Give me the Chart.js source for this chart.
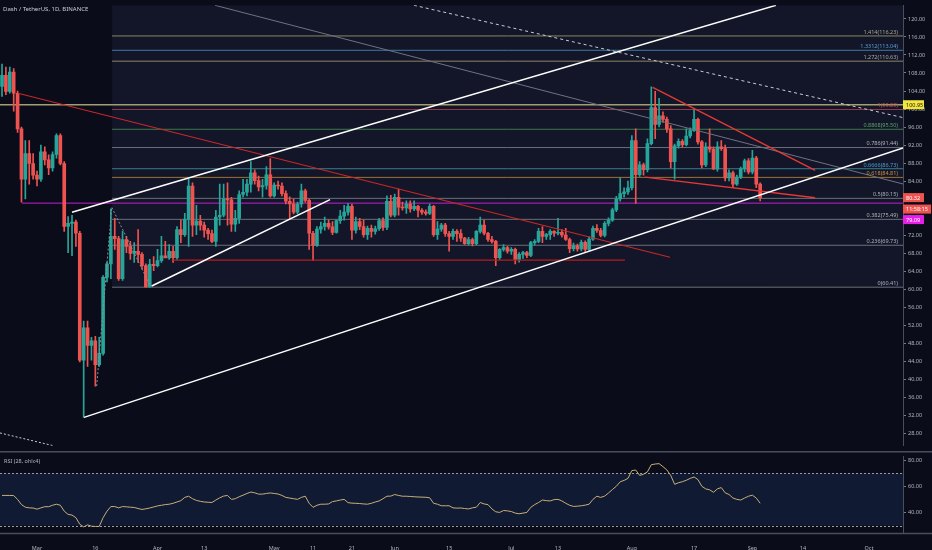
<!DOCTYPE html>
<html>
<head>
<meta charset="utf-8">
<title>Dash / TetherUS</title>
<script src="https://cdn.jsdelivr.net/npm/chart.js@4.4.0/dist/chart.umd.min.js"></script>
<style>
html, body { margin: 0; padding: 0; background: #0b0c1a; }
#wrap { position: relative; width: 932px; height: 550px; overflow: hidden; }
#priceChart { position: absolute; left: 0; top: 0; }
#rsiChart { position: absolute; left: 0; top: 451px; }
.label { position: absolute; font-family: "Noto Sans", sans-serif; color: #c9ccd4; white-space: nowrap; }
#title { left: 3px; top: 5px; font-size: 6px; }
#rsiTitle { left: 4px; top: 457px; font-size: 5.5px; color: #b2b5be; }
</style>
</head>
<body>
<div id="wrap">
  <canvas id="priceChart" width="932" height="451"></canvas>
  <canvas id="rsiChart" width="932" height="99"></canvas>
  <div id="title" class="label">Dash / TetherUS, 1D, BINANCE</div>
  <div id="rsiTitle" class="label">RSI (28, ohlc4)</div>
</div>
<script>
// daily candles, day numbers counted from 1 March 2020 (first candle = 21 Feb)
const firstDay = -9;

const opens = [
  105.0, 107.5, 103.9, 108.2, 103.5, 95.6, 84.4, 90.1, 87.9, 85.3,
  84.4, 90.5, 88.7, 86.9, 89.9, 94.1, 87.9, 73.9, 74.6, 74.9,
  72.4, 44.2, 51.4, 47.5, 48.5, 43.2, 45.7, 62.6, 65.6, 71.7,
  71.2, 62.3, 71.0, 69.5, 67.9, 68.4, 67.7, 65.2, 60.5, 65.5,
  65.2, 66.3, 67.4, 66.9, 68.4, 67.0, 73.2, 72.1, 75.5, 82.9,
  74.2, 75.1, 74.2, 73.1, 72.3, 70.6, 76.0, 76.4, 80.0, 79.8,
  74.4, 75.7, 81.0, 81.5, 83.3, 85.8, 84.1, 82.7, 83.0, 85.4,
  80.7, 83.1, 82.9, 81.2, 79.5, 78.9, 77.1, 78.9, 81.8, 79.7,
  72.4, 69.7, 73.3, 73.9, 74.6, 73.8, 72.6, 75.2, 76.2, 77.1,
  78.4, 73.1, 75.0, 73.9, 72.1, 73.5, 72.8, 73.4, 75.2, 73.7,
  79.5, 76.4, 80.4, 78.2, 78.0, 78.9, 77.8, 78.4, 77.5, 77.1,
  76.8, 78.4, 72.1, 73.3, 74.2, 72.3, 71.7, 72.8, 72.3, 71.3,
  70.1, 71.0, 70.1, 72.8, 74.2, 72.4, 71.0, 70.6, 67.0, 68.8,
  69.2, 68.4, 68.8, 66.6, 67.7, 68.1, 67.5, 70.3, 70.6, 72.8,
  71.7, 72.1, 72.8, 72.4, 72.6, 72.0, 71.0, 69.0, 69.6, 68.9,
  70.4, 68.8, 71.1, 73.5, 73.0, 71.9, 74.6, 75.3, 77.6, 80.0,
  81.2, 81.6, 82.5, 93.0, 85.4, 87.6, 86.5, 92.3, 100.3, 96.6,
  98.5, 97.7, 95.6, 88.3, 91.8, 92.8, 92.1, 94.0, 95.2, 97.7,
  92.7, 87.6, 91.6, 91.1, 86.7, 91.6, 91.2, 84.7, 85.8, 83.3,
  84.9, 86.7, 88.5, 86.0, 89.1, 83.3
];
const highs = [
  110.0, 109.3, 109.3, 109.0, 104.0, 96.0, 93.0, 93.0, 90.1, 86.2,
  92.0, 91.6, 89.8, 90.5, 94.5, 94.5, 88.3, 76.1, 76.4, 75.3,
  72.8, 52.9, 52.9, 49.3, 49.5, 49.3, 63.0, 66.0, 77.8, 75.7,
  71.7, 72.8, 71.7, 70.6, 70.3, 73.2, 68.1, 65.6, 66.6, 67.2,
  68.8, 71.7, 70.6, 69.9, 69.5, 73.9, 75.3, 76.8, 84.4, 83.6,
  78.6, 76.4, 74.9, 73.5, 73.1, 77.5, 83.3, 83.3, 83.6, 80.4,
  77.5, 81.8, 84.4, 84.4, 88.3, 86.5, 85.1, 84.4, 87.2, 89.0,
  83.6, 84.0, 83.6, 81.8, 80.5, 80.0, 79.3, 83.3, 82.2, 80.0,
  72.8, 73.9, 74.9, 76.0, 75.3, 75.0, 75.3, 77.5, 78.6, 79.0,
  78.9, 76.0, 75.7, 75.3, 74.0, 74.2, 74.0, 75.7, 75.8, 80.7,
  80.8, 81.1, 82.2, 79.3, 79.6, 79.6, 79.6, 78.6, 77.9, 77.6,
  78.9, 78.6, 75.0, 74.6, 74.6, 72.8, 73.3, 73.2, 73.2, 71.5,
  71.5, 71.3, 73.0, 76.0, 75.3, 72.6, 71.7, 70.8, 69.0, 69.9,
  69.5, 69.2, 69.1, 68.1, 68.4, 68.4, 70.6, 71.0, 73.5, 73.9,
  72.4, 73.2, 73.0, 75.7, 73.2, 73.5, 71.3, 70.2, 70.0, 70.9,
  70.7, 71.6, 74.0, 74.3, 73.5, 75.0, 75.8, 78.0, 80.6, 84.7,
  82.5, 84.0, 94.1, 95.6, 88.3, 88.0, 93.4, 104.9, 103.9, 102.4,
  99.4, 98.2, 96.3, 92.2, 93.4, 93.2, 95.6, 95.8, 99.9, 98.0,
  93.0, 92.5, 95.6, 91.6, 92.7, 93.0, 92.0, 86.5, 86.2, 85.3,
  87.1, 88.9, 89.0, 90.8, 89.5, 83.6
];
const lows = [
  102.8, 103.2, 103.5, 99.5, 94.8, 79.3, 80.0, 83.3, 84.4, 82.9,
  83.9, 87.6, 85.4, 86.2, 89.1, 87.6, 72.8, 68.1, 67.4, 69.5,
  43.8, 31.5, 42.8, 44.2, 38.4, 42.8, 45.3, 61.6, 62.3, 68.8,
  61.9, 61.9, 68.1, 66.6, 65.9, 65.9, 64.5, 60.4, 60.4, 64.1,
  64.9, 65.9, 67.0, 66.6, 65.9, 66.6, 70.3, 71.7, 69.5, 71.7,
  72.1, 73.1, 71.5, 71.0, 70.3, 69.5, 74.2, 76.0, 74.2, 72.8,
  72.8, 74.6, 80.4, 80.7, 81.5, 83.3, 81.8, 80.4, 82.2, 80.4,
  80.4, 82.2, 80.7, 78.9, 75.7, 76.7, 76.7, 78.2, 79.3, 68.8,
  66.3, 69.5, 72.4, 73.1, 73.3, 72.1, 72.4, 74.6, 75.3, 76.4,
  71.0, 72.4, 73.2, 71.5, 71.0, 71.5, 72.2, 73.0, 73.0, 73.2,
  76.0, 76.0, 76.4, 77.5, 76.8, 77.1, 77.4, 76.0, 76.6, 76.4,
  76.5, 71.7, 71.0, 72.8, 71.7, 68.4, 71.0, 70.6, 70.6, 69.9,
  69.8, 69.6, 69.8, 72.4, 72.0, 70.6, 70.2, 65.2, 66.6, 68.4,
  68.0, 67.7, 65.6, 66.0, 66.8, 67.0, 67.2, 69.8, 70.3, 70.3,
  71.0, 71.0, 71.7, 72.0, 71.5, 70.8, 68.1, 68.5, 68.4, 68.5,
  68.3, 68.5, 70.8, 72.6, 71.6, 71.6, 74.0, 75.0, 77.2, 79.5,
  80.4, 81.0, 82.0, 79.0, 85.0, 85.3, 86.0, 92.0, 93.4, 96.0,
  97.0, 94.8, 86.9, 84.4, 91.3, 91.5, 91.8, 93.6, 95.0, 92.2,
  86.9, 87.2, 90.4, 86.5, 86.2, 90.8, 84.0, 84.0, 82.5, 83.0,
  84.5, 86.0, 85.6, 85.6, 82.5, 79.6
];
const closes = [
  107.5, 103.9, 108.2, 103.5, 95.6, 84.4, 90.1, 87.9, 85.3, 84.4,
  90.5, 88.7, 86.9, 89.9, 94.1, 87.9, 73.9, 74.6, 74.9, 72.4,
  44.2, 51.4, 47.5, 48.5, 43.2, 45.7, 62.6, 65.6, 71.7, 71.2,
  62.3, 71.0, 69.5, 67.9, 68.4, 67.7, 65.2, 60.5, 65.5, 65.2,
  66.3, 67.4, 66.9, 68.4, 67.0, 73.2, 72.1, 75.5, 82.9, 74.2,
  75.1, 74.2, 73.1, 72.3, 70.6, 76.0, 76.4, 80.0, 79.8, 74.4,
  75.7, 81.0, 81.5, 83.3, 85.8, 84.1, 82.7, 83.0, 85.4, 80.7,
  83.1, 82.9, 81.2, 79.5, 78.9, 77.1, 78.9, 81.8, 79.7, 72.4,
  69.7, 73.3, 73.9, 74.6, 73.8, 72.6, 75.2, 76.2, 77.1, 78.4,
  73.1, 75.0, 73.9, 72.1, 73.5, 72.8, 73.4, 75.2, 73.7, 79.5,
  76.4, 80.4, 78.2, 78.0, 78.9, 77.8, 78.4, 77.5, 77.1, 76.8,
  78.4, 72.1, 73.3, 74.2, 72.3, 71.7, 72.8, 72.3, 71.3, 70.1,
  71.0, 70.1, 72.8, 74.2, 72.4, 71.0, 70.6, 67.0, 68.8, 69.2,
  68.4, 68.8, 66.6, 67.7, 68.1, 67.5, 70.3, 70.6, 72.8, 71.7,
  72.1, 72.8, 72.4, 72.6, 72.0, 71.0, 69.0, 69.6, 68.9, 70.4,
  68.8, 71.1, 73.5, 73.0, 71.9, 74.6, 75.3, 77.6, 80.0, 81.2,
  81.6, 82.5, 93.0, 85.4, 87.6, 86.5, 92.3, 100.3, 96.6, 98.5,
  97.7, 95.6, 88.3, 91.8, 92.8, 92.1, 94.0, 95.2, 97.7, 92.7,
  87.6, 91.6, 91.1, 86.7, 91.6, 91.2, 84.7, 85.8, 83.3, 84.9,
  86.7, 88.5, 86.0, 89.1, 83.3, 80.32
];
const rsi = [
  53, 53, 53, 52.9, 50, 46, 44, 43.5, 43.4, 42.5,
  43.5, 44.4, 44.4, 45.5, 46.3, 45.5, 41, 38.5, 38, 36,
  31, 29, 30.5, 29.5, 29.3, 29.3, 36, 41, 44.5, 44.5,
  43.5, 44.5, 44.3, 44, 43.8, 43, 42.3, 42.8, 43.4, 44.2,
  45, 45.5, 46, 46.3, 47, 48, 49, 51.5, 52.4, 50.5,
  49.2, 48.5, 48, 47.8, 47.6, 49.5, 51.2, 52.5, 53, 50,
  50.5, 52, 53.2, 54.5, 55.6, 55, 54, 54, 54.5, 54.9,
  54.5, 54.1, 53, 51.5, 51, 50.5, 50, 51.5, 52.4, 47,
  43.9, 45.5, 46.3, 46.3, 46.5, 48.3, 48.8, 49.5, 50, 47.5,
  47.1, 47, 46.8, 46.5, 46.3, 47, 48, 48.8, 50.5, 52.4,
  52.5, 53.7, 53, 52.4, 52.4, 52.2, 52, 51.8, 51.7, 51.6,
  51.2, 47, 46.3, 45.1, 45.1, 45.1, 43.5, 43.3, 43.4, 43,
  42.7, 43.5, 44, 47.6, 46.5, 46, 42.7, 40.5, 40, 41.5,
  41.2, 40.7, 39.5, 39, 39.5, 40, 43.9, 46, 47.6, 49.5,
  49, 48.8, 49.8, 50, 48.8, 47, 45.5, 44.6, 44.8, 45.1,
  45.6, 46.3, 50, 52.4, 51.5, 52.5, 54.9, 57.5, 60, 63.4,
  64.5, 66, 72, 72.4, 68.3, 69.2, 71, 76.5, 77, 77.3,
  75, 72.5, 68.3, 61.5, 62.7, 63.5, 64.6, 66, 67.1, 65.1,
  60, 58, 57.3, 55.4, 58, 59, 55, 53.7, 51, 50,
  49.5, 51, 52.4, 53.2, 51, 47
];

const priceTicks = [28, 32, 36, 40, 44, 48, 52, 56, 60, 64, 68, 72, 76, 80, 84, 88, 92, 96, 100, 104, 108, 112, 116, 120];
const rsiTicks = [40, 60, 80];
const timeTicks = [0, 15, 31, 43, 61, 71, 81, 92, 106, 122, 134, 153, 169, 184, 197, 214];
const timeLabels = ['Mar', '16', 'Apr', '13', 'May', '11', '21', 'Jun', '15', 'Jul', '13', 'Aug', '17', 'Sep', '14', 'Oct'];

// fib retracement
const fibStart = 19.3;
const fibLevels = [1.414, 1.3312, 1.272, 1, 0.8868, 0.786, 0.6666, 0.618, 0.5, 0.382, 0.236, 0];
const fibPrices = [116.23, 113.04, 110.63, 99.89, 95.50, 91.44, 86.73, 84.81, 80.15, 75.49, 69.73, 60.41];

// drawn lines, [day, price]
const channelLow = [[12.09, 31.5], [222.74, 91.37]];
const channelHigh = [[9.0, 77.05], [190.07, 123.04]];
const smallChannel = [[29.5, 60.69], [75.36, 79.87]];
const redTrend = [[-4.89, 103.51], [162.81, 67.07]];
const redSupport = [[34.98, 66.42], [151.23, 66.42]];
const wedgeTop = [[158.36, 104.82], [200.15, 86.38]];
const wedgeBottom = [[156.38, 84.86], [200.15, 80.30]];
const greyTrend = [[45.78, 123.04], [222.74, 83.34]];
const dottedTrend = [[96.96, 123.04], [222.74, 98.09]];
const dottedLeft = [[-9.52, 28.03], [4.2, 25.2]];
const fibAnchor = [[15.35, 38.44], [19.21, 78.2], [29.06, 60.85]];
const yellowLevel = 100.95;
const magentaLevel = 79.09;
const magentaStart = -3.86;
const lastPrice = 80.32;
const countdown = '11:58:15';

const xMin = -9.52, xMax = 222.74;
const UP = '#26a69a', DOWN = '#ef5350';
const font = { family: 'Noto Sans', size: 5.5 };
const textColor = '#b2b5be';

const fibLineColors = ['#8a8860', '#3c7c9c', '#8a8860', '#8e3a46', '#3c7a4e', '#6c6f79', '#3a7d8d', '#9a7234', '#6c6f79', '#6c6f79', '#6c6f79', '#6c6f79'];
const fibTextColors = ['#a8a790', '#5aa0d0', '#a8a8a8', '#c0504d', '#5aa66a', '#b0b2b8', '#4a9fd0', '#d09040', '#b0b2b8', '#b0b2b8', '#b0b2b8', '#b0b2b8'];

const candleColors = closes.map((c, i) => c >= opens[i] ? UP : DOWN);
const bodies = closes.map((c, i) => ({ x: firstDay + i, y: [opens[i], c] }));
const wicks = closes.map((c, i) => ({ x: firstDay + i, y: [lows[i], highs[i]] }));

function pts(line) {
  return line.map(p => ({ x: p[0], y: p[1] }));
}
function lineSet(line, color, width, dash, order) {
  return {
    type: 'line', data: pts(line), borderColor: color, borderWidth: width,
    borderDash: dash || [], pointRadius: 0, fill: false, tension: 0, order: order
  };
}

const bgPlugin = {
  id: 'bg',
  beforeDraw(chart) {
    const ctx = chart.ctx;
    ctx.save();
    ctx.fillStyle = '#0b0c1a';
    ctx.fillRect(0, 0, chart.width, chart.height);
    ctx.restore();
  }
};

const fibPlugin = {
  id: 'fib',
  beforeDatasetsDraw(chart) {
    const { ctx, chartArea, scales } = chart;
    const x0 = scales.x.getPixelForValue(fibStart);
    const yb = scales.y.getPixelForValue(fibPrices[fibPrices.length - 1]);
    ctx.save();
    ctx.fillStyle = '#121628';
    ctx.fillRect(x0, chartArea.top, chartArea.right - x0, yb - chartArea.top);
    ctx.restore();
  },
  afterDatasetsDraw(chart) {
    const { ctx, chartArea, scales } = chart;
    ctx.save();
    ctx.font = '5.5px "Noto Sans"';
    ctx.textAlign = 'right';
    ctx.textBaseline = 'bottom';
    fibPrices.forEach((p, i) => {
      ctx.fillStyle = fibTextColors[i];
      ctx.fillText(fibLevels[i] + '(' + p.toFixed(2) + ')', chartArea.right - 5, scales.y.getPixelForValue(p) - 1);
    });
    ctx.restore();
  }
};

const tagPlugin = {
  id: 'tags',
  afterDraw(chart) {
    const { ctx, chartArea, scales } = chart;
    const left = chartArea.right;
    ctx.save();
    ctx.font = '5.5px "Noto Sans"';
    ctx.textAlign = 'left';
    ctx.textBaseline = 'middle';
    function tag(cy, text, bg, fg, w) {
      ctx.fillStyle = bg;
      ctx.fillRect(left, cy - 4.5, w, 9);
      ctx.fillStyle = fg;
      ctx.fillText(text, left + 3, cy + 0.5);
    }
    tag(scales.y.getPixelForValue(yellowLevel), yellowLevel.toFixed(2), '#f3e53c', '#131722', 21);
    const cy = scales.y.getPixelForValue(lastPrice);
    tag(cy, lastPrice.toFixed(2), DOWN, '#ffffff', 21);
    tag(cy + 11.5, countdown, DOWN, '#ffffff', 28);
    tag(cy + 22, magentaLevel.toFixed(2), '#e91ee6', '#ffffff', 21);
    ctx.restore();
  }
};

const fibSets = fibPrices.map((p, i) => lineSet([[fibStart, p], [xMax, p]], fibLineColors[i], 1, null, 5));

new Chart(document.getElementById('priceChart'), {
  type: 'bar',
  data: {
    datasets: [
      ...fibSets,
      lineSet([[xMin, yellowLevel], [xMax, yellowLevel]], '#a19e70', 1.5, null, 4),
      lineSet([[magentaStart, magentaLevel], [xMax, magentaLevel]], '#c21fd0', 1, null, 4),
      { data: wicks, backgroundColor: candleColors, barThickness: 1, grouped: false, order: 3 },
      { data: bodies, backgroundColor: candleColors, barThickness: 3, minBarLength: 1, grouped: false, order: 2 },
      lineSet(redTrend, '#c62828', 1.2, null, 1),
      lineSet(redSupport, '#b71c1c', 1.2, null, 1),
      lineSet(wedgeTop, '#e53935', 1.4, null, 1),
      lineSet(wedgeBottom, '#e53935', 1.4, null, 1),
      lineSet(greyTrend, '#6f7280', 1, null, 1),
      lineSet(dottedTrend, '#c9ccd6', 1, [3, 3], 1),
      lineSet(dottedLeft, '#c9ccd6', 1, [2, 2], 1),
      lineSet(fibAnchor, '#8b8e98', 1, [2, 2], 1),
      lineSet(channelLow, '#ffffff', 1.5, null, 0),
      lineSet(channelHigh, '#ffffff', 1.5, null, 0),
      lineSet(smallChannel, '#ffffff', 1.5, null, 0)
    ]
  },
  options: {
    responsive: false,
    animation: false,
    events: [],
    layout: { padding: 0, autoPadding: false },
    plugins: { legend: { display: false }, tooltip: { enabled: false } },
    scales: {
      x: { type: 'linear', min: xMin, max: xMax, offset: false, display: false },
      y: {
        type: 'linear', position: 'right', min: 25.2, max: 123.04, beginAtZero: false,
        afterFit: s => { s.width = 29; },
        afterBuildTicks: s => { s.ticks = priceTicks.map(v => ({ value: v })); },
        ticks: { color: textColor, font: font, padding: 2, callback: v => v.toFixed(2) },
        grid: { drawOnChartArea: false, drawTicks: true, tickLength: 3, color: '#787b86' },
        border: { display: true, color: '#4a4e5c' }
      }
    }
  },
  plugins: [bgPlugin, fibPlugin, tagPlugin]
});

const rsiPlugin = {
  id: 'rsiBand',
  beforeDatasetsDraw(chart) {
    const { ctx, chartArea, scales } = chart;
    const y70 = scales.y.getPixelForValue(70);
    const y30 = scales.y.getPixelForValue(30);
    ctx.save();
    ctx.fillStyle = '#111a33';
    ctx.fillRect(chartArea.left, y70, chartArea.right - chartArea.left, y30 - y70);
    ctx.strokeStyle = '#9a9da8';
    ctx.lineWidth = 1;
    ctx.setLineDash([2, 2]);
    [y70, y30].forEach(y => {
      ctx.beginPath();
      ctx.moveTo(chartArea.left, Math.round(y) + 0.5);
      ctx.lineTo(chartArea.right, Math.round(y) + 0.5);
      ctx.stroke();
    });
    ctx.restore();
  },
  afterDraw(chart) {
    const { ctx, chartArea } = chart;
    ctx.save();
    ctx.strokeStyle = '#4a4e5c';
    ctx.lineWidth = 1.5;
    ctx.beginPath();
    ctx.moveTo(0, 0.75);
    ctx.lineTo(chart.width, 0.75);
    ctx.moveTo(0, chartArea.bottom + 0.5);
    ctx.lineTo(chart.width, chartArea.bottom + 0.5);
    ctx.stroke();
    ctx.restore();
  }
};

new Chart(document.getElementById('rsiChart'), {
  type: 'line',
  data: {
    datasets: [{
      data: rsi.map((v, i) => ({ x: firstDay + i, y: v })),
      borderColor: '#c8ae78', borderWidth: 1, pointRadius: 0, tension: 0, fill: false
    }]
  },
  options: {
    responsive: false,
    animation: false,
    events: [],
    layout: { padding: 0, autoPadding: false },
    plugins: { legend: { display: false }, tooltip: { enabled: false } },
    scales: {
      x: {
        type: 'linear', min: xMin, max: xMax, offset: false, position: 'bottom',
        afterFit: s => { s.height = 17; },
        afterBuildTicks: s => { s.ticks = timeTicks.map(v => ({ value: v })); },
        ticks: {
          color: textColor, font: font, padding: 4, autoSkip: false, maxRotation: 0,
          callback: (v, i) => timeLabels[i]
        },
        grid: { display: false },
        border: { display: true, color: '#4a4e5c' }
      },
      y: {
        type: 'linear', position: 'right', min: 24.3, max: 82.9,
        afterFit: s => { s.width = 29; },
        afterBuildTicks: s => { s.ticks = rsiTicks.map(v => ({ value: v })); },
        ticks: { color: textColor, font: font, padding: 2, callback: v => v.toFixed(2) },
        grid: { drawOnChartArea: false, drawTicks: true, tickLength: 3, color: '#787b86' },
        border: { display: true, color: '#4a4e5c' }
      }
    }
  },
  plugins: [bgPlugin, rsiPlugin]
});
</script>
</body>
</html>
